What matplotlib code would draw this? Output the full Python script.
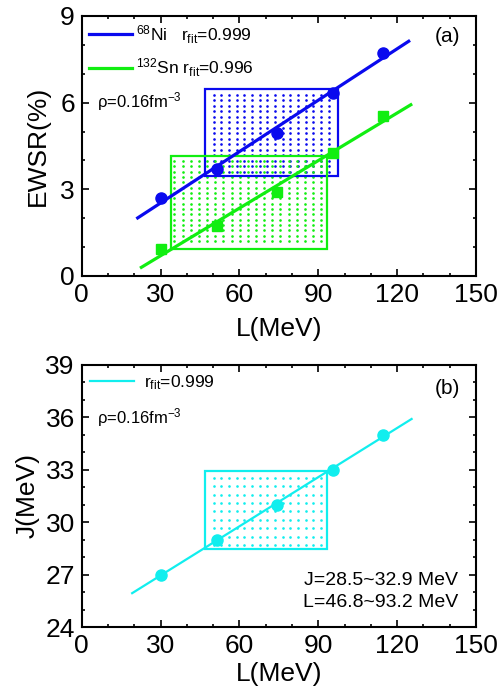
import numpy as np
import matplotlib
matplotlib.use('Agg')
import matplotlib.pyplot as plt
from matplotlib.patches import Rectangle

plt.rcParams['font.family'] = ['Liberation Sans', 'DejaVu Sans']
plt.rcParams['mathtext.fontset'] = 'custom'
plt.rcParams['mathtext.rm'] = 'Liberation Sans'
plt.rcParams['mathtext.it'] = 'Liberation Sans:italic'
plt.rcParams['mathtext.default'] = 'regular'

# slope parameter L of the interactions (MeV)
L_vals = [30.0, 51.3, 74.3, 95.6, 114.6]
# EWSR fractions (%)
ewsr_ni = [2.71, 3.69, 4.96, 6.34, 7.73]
ewsr_sn = [0.92, 1.74, 2.90, 4.25, 5.54]
# symmetry energy J (MeV)
J_vals = [27.0, 29.0, 31.0, 33.0, 35.0]

# fit line ranges
fit_ni = [21.3, 124.4]
fit_sn = [22.7, 125.2]
fit_j = [19.2, 125.5]

# constraint boxes: (L_min, L_max, y_min, y_max)
box_ni = (46.8, 97.4, 3.46, 6.47)
box_sn = (34.0, 93.2, 0.95, 4.17)
box_j = (46.8, 93.2, 28.5, 32.9)

c_ni = '#0a0aee'
c_sn = '#11ee11'
c_j = '#11eeee'


def fitline(ax, x, y, rng, color, lw, label):
    p = np.polyfit(x, y, 1)
    xx = np.array(rng)
    ax.plot(xx, np.polyval(p, xx), color=color, lw=lw, label=label, zorder=4)


def dotbox(ax, box, color, dx, dy, mx, my):
    x0, x1, y0, y1 = box
    ax.add_patch(Rectangle((x0, y0), x1 - x0, y1 - y0, fill=False,
                           edgecolor=color, lw=1.6, zorder=3))
    gx = np.arange(x0 + mx, x1 - dx * 0.4, dx)
    gy = np.arange(y1 - my, y0 + dy * 0.4, -dy)
    X, Y = np.meshgrid(gx, gy)
    ax.plot(X.ravel(), Y.ravel(), ls='none', marker='o', ms=1.9,
            mew=0, color=color, zorder=2)


def style(ax, ylim, ymaj, ymin):
    ax.set_xlim(0, 150)
    ax.set_ylim(*ylim)
    ax.set_xticks(np.arange(0, 151, 30))
    ax.set_xticks(np.arange(0, 151, 10), minor=True)
    ax.set_yticks(np.arange(ylim[0], ylim[1] + 0.1, ymaj))
    ax.set_yticks(np.arange(ylim[0], ylim[1] + 0.1, ymin), minor=True)
    ax.tick_params(which='both', direction='in', top=True, right=True,
                   width=1.2, labelsize=19)
    ax.tick_params(which='major', length=5, pad=5)
    ax.tick_params(which='minor', length=2.5)
    for s in ax.spines.values():
        s.set_linewidth(1.5)


fig = plt.figure(figsize=(5, 6.95), dpi=100)
ax1 = fig.add_axes([0.1634, 0.6029, 0.7886, 0.3741])
ax2 = fig.add_axes([0.1634, 0.0974, 0.7886, 0.3779])

# panel (a)
dotbox(ax1, box_ni, c_ni, 2.92, 0.19, 3.4, 0.2)
dotbox(ax1, box_sn, c_sn, 3.1, 0.185, 1.3, 0.19)
fitline(ax1, L_vals, ewsr_ni, fit_ni, c_ni, 2.3,
        r'$^{68}$Ni   r$_{\rm fit}$=0.999')
fitline(ax1, L_vals, ewsr_sn, fit_sn, c_sn, 2.3,
        r'$^{132}$Sn r$_{\rm fit}$=0.996')
ax1.plot(L_vals, ewsr_ni, 'o', color=c_ni, ms=8, zorder=5)
ax1.plot(L_vals, ewsr_sn, 's', color=c_sn, ms=6.5, zorder=5)
style(ax1, (0, 9), 3, 1)
ax1.set_xlabel('L(MeV)', fontsize=19, labelpad=7)
ax1.set_ylabel('EWSR(%)', fontsize=19, labelpad=7)
ax1.legend(loc='upper left', frameon=False, fontsize=12.5, handlelength=2.5,
           handletextpad=0.2, labelspacing=0.65, borderaxespad=0.0,
           bbox_to_anchor=(0.0, 1.0))
ax1.text(0.04, 0.67, r'$\rho$=0.16fm$^{-3}$', transform=ax1.transAxes,
         fontsize=12, va='center')
ax1.text(0.96, 0.92, '(a)', transform=ax1.transAxes, fontsize=15,
         ha='right', va='center')

# panel (b)
dotbox(ax2, box_j, c_j, 2.92, 0.48, 3.4, 0.36)
fitline(ax2, L_vals, J_vals, fit_j, c_j, 1.6, r'r$_{\rm fit}$=0.999')
ax2.plot(L_vals, J_vals, 'o', color=c_j, ms=8, zorder=5)
style(ax2, (24, 39), 3, 1)
ax2.set_xlabel('L(MeV)', fontsize=19, labelpad=3)
ax2.set_ylabel('J(MeV)', fontsize=19, labelpad=4)
ax2.legend(loc='upper left', frameon=False, fontsize=12.5, handlelength=2.5,
           handletextpad=0.6, borderaxespad=0.1, bbox_to_anchor=(0.0, 1.0))
ax2.text(0.04, 0.80, r'$\rho$=0.16fm$^{-3}$', transform=ax2.transAxes,
         fontsize=12, va='center')
ax2.text(0.96, 0.91, '(b)', transform=ax2.transAxes, fontsize=15,
         ha='right', va='center')
ax2.text(0.955, 0.18, 'J=28.5~32.9 MeV', transform=ax2.transAxes,
         fontsize=14, ha='right', va='center')
ax2.text(0.955, 0.093, 'L=46.8~93.2 MeV', transform=ax2.transAxes,
         fontsize=14, ha='right', va='center')

fig.savefig('out.png', dpi=100)
